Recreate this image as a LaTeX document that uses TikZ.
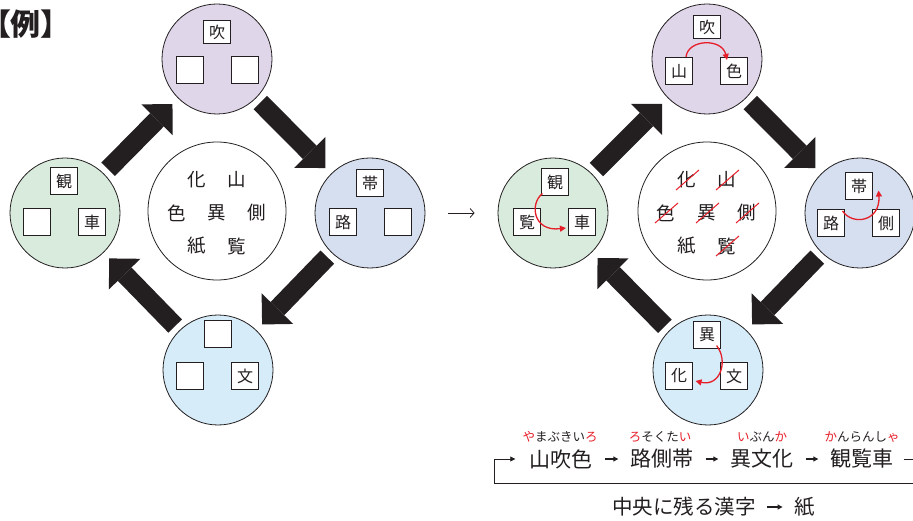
\documentclass[tikz,border=0pt]{standalone}
\usepackage{fontspec}
\newfontfamily\jp{Noto Sans CJK JP}
\usetikzlibrary{arrows.meta}
\definecolor{ink}{RGB}{35,31,32}
\definecolor{cpur}{RGB}{224,214,234}
\definecolor{cgrn}{RGB}{217,235,221}
\definecolor{cblu}{RGB}{213,223,240}
\definecolor{ccya}{RGB}{214,236,249}
\definecolor{jred}{RGB}{230,30,40}
\tikzset{
  every node/.style={font=\jp, text=ink},
  ring/.style={circle, draw=ink, line width=0.8pt, minimum size=110pt, inner sep=0pt},
  core/.style={circle, draw=ink, line width=0.8pt, fill=white, minimum size=138pt, inner sep=0pt},
  slot/.style={draw=ink, line width=1.1pt, fill=white, minimum width=27pt, minimum height=27pt, inner sep=0pt, font=\jp\fontsize{16}{16}\selectfont},
  slotlow/.style={slot, minimum height=23pt},
  kan/.style={inner sep=0pt, font=\jp\fontsize{18.5}{18.5}\selectfont},
  fat/.style={draw=ink, line width=19pt, -{Triangle[length=22pt,width=44pt,line width=0pt]}, shorten <=6pt, shorten >=8pt},
  thinarr/.style={draw=ink, line width=0.8pt, -{Straight Barb[length=4pt,width=9pt]}},
  redarr/.style={draw=jred, line width=1.3pt, -{Triangle[length=6pt,width=6pt]}},
  strike/.style={draw=jred, line width=1pt},
  word/.style={inner sep=0pt, font=\jp\fontsize{21}{21}\selectfont},
  ruby/.style={inner sep=0pt, font=\jp\fontsize{12.5}{12.5}\selectfont},
  note/.style={inner sep=0pt, font=\jp\fontsize{20.5}{20.5}\selectfont},
  warr/.style={draw=ink, line width=1.1pt, -{Triangle[length=5pt,width=5pt]}, shorten <=12pt, shorten >=12pt},
  brk/.style={draw=ink, line width=0.8pt, -{Triangle[length=5pt,width=5pt]}, shorten <=10pt, shorten >=14pt},
}
\begin{document}
\begin{tikzpicture}[x=1pt,y=-1pt]
\useasboundingbox (0,0) rectangle (913,521);

% title
\node[font=\jp\bfseries\fontsize{30}{30}\selectfont, inner sep=0pt] (ex) at (26,24) {【例】};

% ---------- left diagram ----------
\node[core] (Lc) at (217,211) {};
\node[ring, fill=cpur] (Lt) at (217,59) {};
\node[ring, fill=cgrn] (Ll) at (65,213) {};
\node[ring, fill=cblu] (Lr) at (370,213) {};
\node[ring, fill=ccya] (Lb) at (218,370) {};

\node[slotlow] (Lt1) at (217,32) {吹};
\node[slot] (Lt2) at (190,70) {};
\node[slot] (Lt3) at (245,70) {};

\node[slot] (Ll1) at (64,181) {観};
\node[slot] (Ll2) at (37,222) {};
\node[slot] (Ll3) at (92,222) {車};

\node[slot] (Lr1) at (370,183) {帯};
\node[slot] (Lr2) at (343,222) {路};
\node[slot] (Lr3) at (398,222) {};

\node[slot] (Lb1) at (218,334) {};
\node[slot] (Lb2) at (190,376) {};
\node[slot] (Lb3) at (245,376) {文};

\node[kan] (Lc1) at (197,180) {化};
\node[kan] (Lc2) at (237,180) {山};
\node[kan] (Lc3) at (177,213) {色};
\node[kan] (Lc4) at (217,213) {異};
\node[kan] (Lc5) at (257,213) {側};
\node[kan] (Lc6) at (197,246) {紙};
\node[kan] (Lc7) at (237,246) {覧};

\draw[fat] (Ll) -- (Lt);
\draw[fat] (Lt) -- (Lr);
\draw[fat] (Lr) -- (Lb);
\draw[fat] (Lb) -- (Ll);

% ---------- right diagram ----------
\node[core] (Rc) at (707,211) {};
\node[ring, fill=cpur] (Rt) at (707,59) {};
\node[ring, fill=cgrn] (Rl) at (553,213) {};
\node[ring, fill=cblu] (Rr) at (860,213) {};
\node[ring, fill=ccya] (Rb) at (708,370) {};

\node[slotlow] (Rt1) at (707,27) {吹};
\node[slot] (Rt2) at (679,71) {山};
\node[slot] (Rt3) at (734,71) {色};

\node[slot] (Rl1) at (555,182) {観};
\node[slot] (Rl2) at (527,222) {覧};
\node[slot] (Rl3) at (582,222) {車};

\node[slot] (Rr1) at (859,186) {帯};
\node[slot] (Rr2) at (831,223) {路};
\node[slot] (Rr3) at (886,223) {側};

\node[slot] (Rb1) at (707,335) {異};
\node[slot] (Rb2) at (679,376) {化};
\node[slot] (Rb3) at (734,376) {文};

\node[kan] (Rc1) at (687,180) {化};
\node[kan] (Rc2) at (727,180) {山};
\node[kan] (Rc3) at (666,213) {色};
\node[kan] (Rc4) at (707,213) {異};
\node[kan] (Rc5) at (747,213) {側};
\node[kan] (Rc6) at (687,246) {紙};
\node[kan] (Rc7) at (727,246) {覧};

\foreach \c in {Rc1,Rc2,Rc3,Rc4,Rc5,Rc7}
  \draw[strike] ([shift={(-11pt,-10pt)}]\c.center) -- ([shift={(12pt,10pt)}]\c.center);

\draw[fat] (Rl) -- (Rt);
\draw[fat] (Rt) -- (Rr);
\draw[fat] (Rr) -- (Rb);
\draw[fat] (Rb) -- (Rl);

% red curved arrows
\draw[redarr] ([xshift=7pt]Rt2.north) .. controls +(2,-18) and +(-5,-22) .. ([xshift=-7pt,yshift=-3pt]Rt3.north);
\draw[redarr] ([xshift=1.5pt,yshift=2.5pt]Rl1.south west) .. controls +(-13,10) and +(-33,4) .. ([xshift=-2pt,yshift=-6pt]Rl3.west);
\draw[redarr] ([xshift=-2.5pt,yshift=12pt]Rr2.east) .. controls +(10,15) and +(2,31) .. ([xshift=5.5pt,yshift=9.5pt]Rr1.south east);
\draw[redarr] ([xshift=-4.5pt,yshift=3.5pt]Rb1.south east) .. controls +(12,15) and +(25,6) .. ([xshift=2.5pt,yshift=-5pt]Rb2.east);

% arrow between diagrams
\draw[thinarr, shorten <=23pt, shorten >=23pt] (Lr) -- (Rl);

% ---------- bottom text ----------
\node[ruby] (r1) at (560,437) {\textcolor{jred}{や}まぶきい\textcolor{jred}{ろ}};
\node[ruby] (r2) at (660,437) {\textcolor{jred}{ろ}そくた\textcolor{jred}{い}};
\node[ruby] (r3) at (762,437) {\textcolor{jred}{い}ぶん\textcolor{jred}{か}};
\node[ruby] (r4) at (862,437) {\textcolor{jred}{か}んらんし\textcolor{jred}{ゃ}};

\node[word] (w1) at (561,459) {山吹色};
\node[word] (w2) at (662,459) {路側帯};
\node[word] (w3) at (762,459) {異文化};
\node[word] (w4) at (862,459) {観覧車};

\draw[warr] (w1) -- (w2);
\draw[warr] (w2) -- (w3);
\draw[warr] (w3) -- (w4);

\coordinate (br) at (940,483);
\coordinate (bl) at (494,483);
\draw[brk] (w4.east) -| (br) -- (bl) |- (w1.west);

\node[note] (m1) at (684,507) {中央に残る漢字};
\node[note] (m2) at (805,507) {紙};
\draw[warr, shorten <=11pt, shorten >=12pt] (m1) -- (m2);
\end{tikzpicture}
\end{document}
